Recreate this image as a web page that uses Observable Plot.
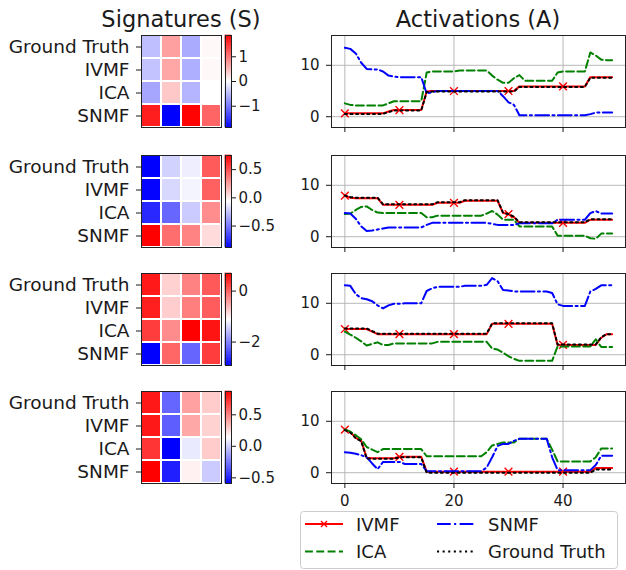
<!DOCTYPE html>
<html><head><meta charset="utf-8">
<script src="https://cdn.jsdelivr.net/npm/d3@7"></script>
<script src="https://cdn.jsdelivr.net/npm/@observablehq/plot@0.6"></script>
<style>
body{margin:0;background:#fff;}
#fig{position:relative;width:626px;height:570px;overflow:hidden;font-family:"DejaVu Sans",sans-serif;background:#fff;}
#fig > *{position:absolute;}
</style></head><body><div id="fig"></div>
<script>
// ---------- data ----------
const methods = ["Ground Truth", "IVMF", "ICA", "SNMF"];
const components = [0, 1, 2, 3];

// Signatures (rows: Ground Truth, IVMF, ICA, SNMF; columns: components)
const S1 = [[-0.47, 0.69, -0.62, 0.05], [-0.44, 0.65, -0.58, 0.05], [-0.65, 0.40, -0.55, 0.00], [1.64, -1.86, 1.84, 1.12]];
const S2 = [[-0.88, -0.21, -0.12, 0.46], [-0.87, -0.19, -0.10, 0.44], [-0.75, -0.55, -0.23, 0.30], [0.75, 0.40, 0.33, 0.05]];
const S3 = [[0.51, -0.79, -0.23, 0.06], [0.47, -0.76, -0.20, 0.03], [0.26, -0.30, 0.69, 0.55], [-2.92, -0.03, -2.20, 0.26]];
const S4 = [[0.80, -0.30, 0.41, 0.29], [0.80, -0.32, 0.39, 0.27], [0.72, -0.59, 0.08, 0.29], [0.87, -0.50, 0.18, -0.01]];
const colorDomains = [[-1.86, 1.86], [-0.88, 0.75], [-2.92, 0.69], [-0.59, 0.87]];
const colorTicks = [[-1, 0, 1], [-0.5, 0, 0.5], [-2, 0], [-0.5, 0, 0.5]];
const colorTickFormats = ["d", ".1f", "d", ".1f"];

// Activations (t = 0..49)
const A1_IVMF = [0.65,0.65,0.65,0.65,0.65,0.65,0.65,0.65,1.0,1.3, 1.3,1.3,1.3,1.3,1.3,4.9,5.0,5.0,5.0,5.0, 5.0,5.0,5.0,5.0,5.0,5.0,5.0,5.0,5.0,5.0, 5.0,5.0,5.9,5.9,5.9,5.9,5.9,5.9,5.9,5.9, 5.9,5.9,5.9,5.9,5.9,7.7,7.7,7.7,7.7,7.7];
const A1_ICA  = [2.6,2.3,2.2,2.2,2.2,2.2,2.2,2.2,2.6,3.0, 3.0,3.0,3.0,3.0,3.0,8.6,8.8,8.8,8.8,8.8, 8.8,9.0,9.0,9.0,9.0,9.0,9.0,8.0,7.2,6.6, 6.6,7.5,8.1,7.0,7.0,7.0,7.0,7.0,7.0,8.6, 8.8,8.8,8.8,8.8,8.8,12.5,11.9,11.1,11.0,11.0];
const A1_SNMF = [13.4,13.2,12.3,10.5,9.3,9.2,9.2,8.8,8.0,7.8, 7.7,7.7,7.7,7.7,7.7,4.5,4.8,5.0,5.0,5.0, 5.0,5.0,5.0,5.0,5.0,5.0,5.0,5.0,5.0,4.0, 2.8,2.3,0.3,0.3,0.3,0.3,0.3,0.3,0.3,0.3, 0.3,0.3,0.3,0.3,0.3,0.5,0.8,0.8,0.8,0.8];
const A1_GT   = [0.55,0.55,0.55,0.55,0.55,0.55,0.55,0.55,0.9,1.2, 1.2,1.2,1.2,1.2,1.2,4.8,4.9,4.9,4.9,4.9, 4.9,4.9,4.9,4.9,4.9,4.9,4.9,4.9,4.9,4.9, 4.9,4.9,5.8,5.8,5.8,5.8,5.8,5.8,5.8,5.8, 5.8,5.8,5.8,5.8,5.8,7.6,7.6,7.6,7.6,7.6];

const A2_IVMF = [8.0,7.6,7.5,7.5,7.5,7.5,7.5,6.2,6.2,6.2, 6.2,6.2,6.2,6.2,6.2,6.2,6.2,6.6,6.6,6.6, 6.6,6.6,7.0,7.0,7.0,7.0,7.0,7.0,7.0,4.6, 4.4,3.8,2.7,2.7,2.7,2.7,2.7,2.7,2.7,2.7, 2.7,2.7,2.7,2.7,2.7,3.3,3.3,3.3,3.3,3.3];
const A2_ICA  = [4.4,4.5,5.2,5.8,5.9,5.2,4.7,4.6,4.6,4.6, 4.6,4.6,4.6,4.6,4.6,3.8,3.8,4.1,4.1,4.1, 4.1,4.1,4.1,4.1,4.1,4.1,4.5,5.0,4.3,3.3, 3.3,3.3,2.0,2.0,2.0,2.0,2.0,2.0,2.0,0.2, 0.2,0.2,0.2,0.2,0.2,-0.3,-0.4,0.6,0.6,0.6];
const A2_SNMF = [4.6,4.5,3.5,2.0,1.1,1.2,1.4,1.6,1.8,1.8, 1.8,1.8,1.8,1.8,1.8,2.3,2.7,2.7,2.7,2.7, 2.7,2.7,2.7,2.7,2.7,2.7,2.7,2.5,2.3,2.3, 2.3,2.3,2.6,2.6,2.6,2.6,2.6,2.6,2.6,3.3, 3.3,3.3,3.3,3.3,3.3,4.6,5.0,4.5,4.5,4.5];
const A2_GT   = [8.0,7.7,7.6,7.6,7.6,7.6,7.6,6.3,6.3,6.3, 6.3,6.3,6.3,6.3,6.3,6.3,6.3,6.7,6.7,6.7, 6.7,6.7,7.1,7.1,7.1,7.1,7.1,7.1,7.1,4.7, 4.4,3.9,2.8,2.8,2.8,2.8,2.8,2.8,2.8,2.8, 2.8,2.8,2.8,2.8,2.8,3.4,3.4,3.4,3.4,3.4];

const A3_IVMF = [5.0,5.0,5.0,5.0,5.0,4.5,4.0,4.0,4.0,4.0, 4.0,4.0,4.0,4.0,4.0,4.0,4.0,4.0,4.0,4.0, 4.0,4.0,4.0,4.0,4.0,4.0,4.0,6.0,6.0,6.0, 6.0,6.0,6.0,6.0,6.0,6.0,6.0,6.0,6.0,1.9, 1.9,1.9,1.9,1.9,1.9,1.9,1.9,3.3,4.0,4.0];
const A3_ICA  = [4.5,3.9,3.3,2.6,1.8,2.1,2.4,1.9,1.9,2.2, 2.2,2.2,2.2,2.2,2.2,2.2,2.2,2.5,2.5,2.5, 2.5,2.5,2.5,2.5,2.5,2.5,2.5,1.2,1.0,0.4, -0.3,-0.8,-1.2,-1.2,-1.2,-1.2,-1.2,-1.2,-1.2,1.6, 1.6,1.6,1.6,1.6,1.6,1.6,3.0,1.5,1.5,1.5];
const A3_SNMF = [13.5,13.4,11.8,11.0,10.8,10.4,9.6,9.0,9.6,9.9, 9.9,10.0,10.0,10.0,10.0,12.4,12.9,13.2,13.2,13.2, 13.2,13.2,13.4,13.4,13.4,13.4,13.6,14.9,14.3,12.6, 12.5,12.3,12.3,12.3,12.3,12.3,12.3,12.3,12.0,9.8, 9.5,9.5,9.5,9.5,9.5,12.3,12.8,13.5,13.5,13.5];
const A3_GT   = [5.1,5.1,5.1,5.1,5.1,4.6,4.1,4.1,4.1,4.1, 4.1,4.1,4.1,4.1,4.1,4.1,4.1,4.1,4.1,4.1, 4.1,4.1,4.1,4.1,4.1,4.1,4.1,6.1,6.1,6.1, 6.1,6.1,6.1,6.1,6.1,6.1,6.1,6.1,6.1,2.0, 2.0,2.0,2.0,2.0,2.0,2.0,2.0,3.4,4.0,4.0];

const A4_IVMF = [8.4,7.9,6.8,6.2,2.9,2.8,2.8,2.8,2.8,2.8, 3.1,3.1,3.1,3.1,3.1,0.2,0.2,0.2,0.2,0.2, 0.2,0.2,0.2,0.2,0.2,0.2,0.2,0.2,0.2,0.2, 0.2,0.2,0.2,0.2,0.2,0.2,0.2,0.2,0.2,0.2, 0.2,0.2,0.2,0.2,0.2,0.2,0.9,0.9,0.9,0.9];
const A4_ICA  = [8.4,8.0,7.3,6.5,5.0,4.5,4.0,4.6,4.6,4.6, 4.6,4.6,4.6,4.6,4.6,3.2,3.2,3.2,3.2,3.2, 3.2,3.2,3.2,3.2,3.2,3.2,4.0,5.3,5.6,5.9, 5.9,5.9,6.6,6.6,6.6,6.6,6.6,6.6,4.5,2.2, 2.2,2.2,2.2,2.2,2.2,2.2,3.0,4.7,4.7,4.7];
const A4_SNMF = [4.0,3.9,3.7,3.4,3.0,1.8,0.7,2.1,2.1,2.1, 2.1,1.7,1.7,1.7,1.7,0.3,0.3,0.3,0.3,0.3, 0.3,0.3,0.3,0.3,0.3,0.3,1.0,3.0,5.2,5.6, 5.6,6.2,6.6,6.6,6.6,6.6,6.6,6.6,3.0,0.5, 0.5,0.5,0.5,0.5,0.5,0.5,1.5,3.3,3.3,3.3];
const A4_GT   = [8.3,7.8,6.7,6.1,2.8,2.7,2.7,2.7,2.7,2.7, 3.0,3.0,3.0,3.0,3.0,0.0,0.0,0.0,0.0,0.0, 0.0,0.0,0.0,0.0,0.0,0.0,0.0,0.0,0.0,0.0, 0.0,0.0,0.0,0.0,0.0,0.0,0.0,0.0,0.0,0.0, 0.0,0.0,0.0,0.0,0.0,0.0,0.6,0.6,0.6,0.6];

const xTicks = [0, 20, 40];
const yTicks = [0, 10];

// ---------- layout ----------
const fig = document.getElementById("fig");
const FONT = "DejaVu Sans, sans-serif";
const TXT = "#1a1a1a";
const panelTops = [35, 154.5, 272.5, 390.5];
const panelH = 92;
const sigs = [S1, S2, S3, S4];
const acts = [
  [A1_IVMF, A1_ICA, A1_SNMF, A1_GT],
  [A2_IVMF, A2_ICA, A2_SNMF, A2_GT],
  [A3_IVMF, A3_ICA, A3_SNMF, A3_GT],
  [A4_IVMF, A4_ICA, A4_SNMF, A4_GT]
];
const bwr = d3.piecewise(d3.interpolateRgb, ["#0000ff", "#ffffff", "#ff0000"]);
const baseStyle = {fontFamily: FONT, color: TXT, background: "transparent", overflow: "visible"};

function place(el, left, top) {
  el.style.position = "absolute";
  el.style.left = left + "px";
  el.style.top = top + "px";
  fig.appendChild(el);
}

const dashICA = "7.9,3.4", dashSNMF = "13.7,3.4,2.1,3.4", dashGT = "2.1,3.5";

sigs.forEach((S, p) => {
  const dom = colorDomains[p];
  const colorOpts = {type: "linear", domain: dom, interpolate: bwr};
  const cells = [];
  S.forEach((row, i) => row.forEach((v, j) => cells.push({method: methods[i], comp: j, v})));
  const heat = Plot.plot({
    width: 222, height: panelH + 2, marginLeft: 141, marginRight: 1, marginTop: 1, marginBottom: 1,
    style: {...baseStyle, fontSize: "18.5px"},
    x: {type: "band", domain: components, padding: 0, axis: null},
    y: {type: "band", domain: methods, padding: 0, label: null, axis: null},
    color: colorOpts,
    marks: [
      Plot.cell(cells, {x: "comp", y: "method", fill: "v", inset: 1}),
      Plot.frame({stroke: "#222", strokeWidth: 1}),
      Plot.axisY({tickSize: 5, tickPadding: 7, fontSize: 18.5, stroke: TXT, fill: TXT})
    ]
  });
  place(heat, 0, panelTops[p] - 1);

  // colorbar
  const n = 120;
  const ramp = d3.range(n).map(k => {
    const y1 = dom[0] + (dom[1] - dom[0]) * k / n;
    const y2 = dom[0] + (dom[1] - dom[0]) * (k + 1) / n;
    return {y1, y2, v: (y1 + y2) / 2};
  });
  const cb = Plot.plot({
    width: 52, height: panelH + 2, marginLeft: 0, marginRight: 46, marginTop: 1, marginBottom: 1,
    style: {...baseStyle, fontSize: "15px"},
    y: {domain: dom, label: null, axis: null},
    color: colorOpts,
    marks: [
      Plot.rect(ramp, {y1: "y1", y2: "y2", fill: "v", stroke: "v", strokeWidth: 0.6}),
      Plot.frame({stroke: "#222", strokeWidth: 1}),
      Plot.axisY(colorTicks[p], {anchor: "right", tickSize: 4, tickPadding: 3, fontSize: 15,
        tickFormat: d3.format(colorTickFormats[p]), stroke: TXT, fill: TXT})
    ]
  });
  place(cb, 225, panelTops[p] - 1);

  // activations
  const [iv, ica, snmf, gt] = acts[p];
  const toRows = arr => arr.map((v, t) => ({t, v}));
  const ivRows = toRows(iv);
  const bottom = p === 3;
  const mb = bottom ? 30 : 8;
  const line = Plot.plot({
    width: 335, height: panelH + 1 + mb, marginLeft: 40, marginRight: 1, marginTop: 1, marginBottom: mb,
    style: {...baseStyle, fontSize: "15px"},
    x: {domain: [-2.45, 51.45], label: null, axis: null},
    y: {domain: [-2.1, 15.8], label: null, axis: null},
    marks: [
      Plot.gridX(xTicks, {stroke: "#b0b0b0", strokeOpacity: 1, strokeWidth: 0.9}),
      Plot.gridY(yTicks, {stroke: "#b0b0b0", strokeOpacity: 1, strokeWidth: 0.9}),
      Plot.line(ivRows, {x: "t", y: "v", stroke: "#ff0000", strokeWidth: 2}),
      Plot.dot(ivRows.filter(d => d.t % 10 === 0), {x: "t", y: "v", symbol: "times", r: 3.6, stroke: "#ff0000", strokeWidth: 1.4}),
      Plot.line(toRows(ica), {x: "t", y: "v", stroke: "#008000", strokeWidth: 2, strokeDasharray: dashICA}),
      Plot.line(toRows(snmf), {x: "t", y: "v", stroke: "#0000ff", strokeWidth: 2, strokeDasharray: dashSNMF}),
      Plot.line(toRows(gt), {x: "t", y: "v", stroke: "#000000", strokeWidth: 2, strokeDasharray: dashGT}),
      Plot.frame({stroke: "#222", strokeWidth: 1}),
      Plot.axisY(yTicks, {tickSize: 5, tickPadding: 7, fontSize: 15, stroke: TXT, fill: TXT}),
      Plot.axisX(xTicks, {tickSize: 5, tickPadding: 7, fontSize: 15, stroke: TXT, fill: TXT,
        tickFormat: bottom ? d3.format("d") : () => ""})
    ]
  });
  place(line, 291, panelTops[p] - 1);
});

// ---------- titles and legend (overlay) ----------
const ns = "http://www.w3.org/2000/svg";
const ov = document.createElementNS(ns, "svg");
ov.setAttribute("width", 626); ov.setAttribute("height", 570);
ov.style.position = "absolute"; ov.style.left = "0px"; ov.style.top = "0px";
ov.style.fontFamily = FONT;
function add(tag, attrs, text) {
  const e = document.createElementNS(ns, tag);
  for (const k in attrs) e.setAttribute(k, attrs[k]);
  if (text != null) e.textContent = text;
  ov.appendChild(e);
  return e;
}
add("text", {x: 181, y: 27, "text-anchor": "middle", "font-size": 22.5, fill: TXT}, "Signatures (S)");
add("text", {x: 478, y: 27, "text-anchor": "middle", "font-size": 22.5, fill: TXT}, "Activations (A)");

const legendItems = [
  {label: "IVMF", color: "#ff0000", dash: null, marker: true, x: 305, y: 524},
  {label: "ICA", color: "#008000", dash: dashICA, x: 305, y: 551.5},
  {label: "SNMF", color: "#0000ff", dash: dashSNMF, x: 437, y: 524},
  {label: "Ground Truth", color: "#000000", dash: dashGT, x: 437, y: 551.5}
];
add("rect", {x: 300.5, y: 511.5, width: 317, height: 57, rx: 3, fill: "#fff", "fill-opacity": 0.8, stroke: "#cccccc", "stroke-width": 1});
legendItems.forEach(it => {
  const l = add("line", {x1: it.x, x2: it.x + 38, y1: it.y, y2: it.y, stroke: it.color, "stroke-width": 2});
  if (it.dash) l.setAttribute("stroke-dasharray", it.dash);
  if (it.marker) {
    const m = it.x + 19, r = 3;
    add("path", {d: `M${m - r},${it.y - r}L${m + r},${it.y + r}M${m - r},${it.y + r}L${m + r},${it.y - r}`, stroke: it.color, "stroke-width": 1.4});
  }
  add("text", {x: it.x + 51, y: it.y + 6.5, "font-size": 18, fill: TXT}, it.label);
});
fig.appendChild(ov);
</script>
</body></html>
